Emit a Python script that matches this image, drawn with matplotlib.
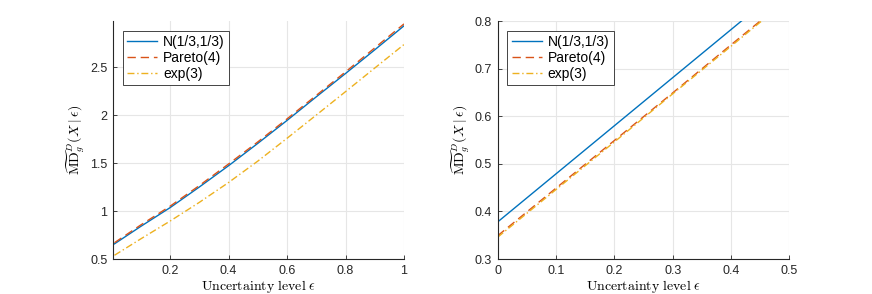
import numpy as np
import matplotlib
matplotlib.use("Agg")
import matplotlib.pyplot as plt

plt.rcParams['font.family'] = ['Liberation Sans', 'DejaVu Sans']
plt.rcParams['mathtext.fontset'] = 'cm'

# colours (MATLAB default order)
C_N = '#0072BD'
C_PAR = '#D95319'
C_EXP = '#EDB120'

labels = ['N(1/3,1/3)', 'Pareto(4)', 'exp(3)']

# left panel, eps in [0.01, 1]
eps_left = [0.01, 0.1, 0.2, 0.3, 0.4, 0.5, 0.6, 0.7, 0.8, 0.9, 1.0]
normal_left = [0.658, 0.840, 1.035, 1.250, 1.472, 1.705, 1.944, 2.190, 2.433, 2.680, 2.930]
pareto_left = [0.670, 0.855, 1.050, 1.265, 1.490, 1.720, 1.960, 2.205, 2.450, 2.700, 2.950]
exp_left = [0.539, 0.710, 0.895, 1.090, 1.297, 1.520, 1.758, 2.000, 2.244, 2.490, 2.735]

# right panel, eps in [0, 0.5]
eps_right = [0.0, 0.1, 0.2, 0.3, 0.4, 0.5]
normal_right = [0.378, 0.479, 0.580, 0.681, 0.782, 0.883]
pareto_right = [0.349, 0.449, 0.549, 0.649, 0.750, 0.850]
exp_right = [0.346, 0.446, 0.546, 0.647, 0.747, 0.848]


def style_axes(ax):
    ax.spines['top'].set_visible(False)
    ax.spines['right'].set_visible(False)
    for s in ('left', 'bottom'):
        ax.spines[s].set_color('#262626')
        ax.spines[s].set_linewidth(0.8)
    ax.tick_params(direction='in', length=3, width=0.6, labelsize=9,
                   colors='#262626', pad=4)
    ax.grid(True, color='#e6e6e6', linewidth=0.8)
    ax.set_axisbelow(True)
    ax.set_xlabel(r'$\mathrm{Uncertainty\ level}\ \epsilon$', fontsize=10, labelpad=1)
    ax.set_ylabel(r'$\widetilde{\mathrm{MD}}_g^D(X\mid\epsilon)$', fontsize=10, labelpad=2)
    leg = ax.legend(loc='upper left', fontsize=10, fancybox=False, framealpha=1,
                    edgecolor='#262626', handlelength=2.2, borderpad=0.3,
                    labelspacing=0.15, handletextpad=0.4, borderaxespad=0.7)
    leg.get_frame().set_linewidth(0.6)


def draw(ax, x, yn, yp, ye):
    ax.plot(x, yn, color=C_N, lw=1.0, label=labels[0])
    ax.plot(x, yp, color=C_PAR, lw=1.0, ls=(0, (6, 3.5)), label=labels[1])
    ax.plot(x, ye, color=C_EXP, lw=1.0, ls=(0, (5, 2, 1, 2)), label=labels[2])


fig = plt.figure(figsize=(8.72, 2.94), dpi=100)
ax1 = fig.add_axes([0.1296, 0.119, 0.3337, 0.8095])
ax2 = fig.add_axes([0.5708, 0.119, 0.3344, 0.8095])

draw(ax1, eps_left, normal_left, pareto_left, exp_left)
ax1.set_xlim(0.005, 1)
ax1.set_ylim(0.5, 2.98)
ax1.set_xticks([0.2, 0.4, 0.6, 0.8, 1.0])
ax1.set_xticklabels(['0.2', '0.4', '0.6', '0.8', '1'])
ax1.set_yticks([0.5, 1, 1.5, 2, 2.5])
ax1.set_yticklabels(['0.5', '1', '1.5', '2', '2.5'])
style_axes(ax1)

draw(ax2, eps_right, normal_right, pareto_right, exp_right)
ax2.set_xlim(0, 0.5)
ax2.set_ylim(0.3, 0.8)
ax2.set_xticks([0, 0.1, 0.2, 0.3, 0.4, 0.5])
ax2.set_xticklabels(['0', '0.1', '0.2', '0.3', '0.4', '0.5'])
ax2.set_yticks([0.3, 0.4, 0.5, 0.6, 0.7, 0.8])
style_axes(ax2)

fig.savefig('out.png', dpi=100)
